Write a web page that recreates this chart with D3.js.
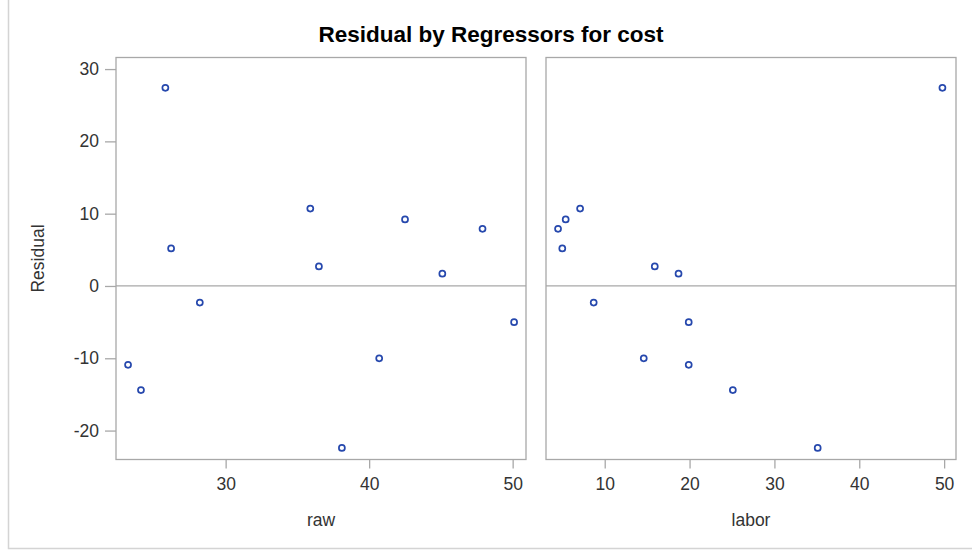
<!DOCTYPE html>
<html>
<head>
<meta charset="utf-8">
<script src="https://cdn.jsdelivr.net/npm/d3@7"></script>
<style>
  body { margin: 0; background: #fff; }
  text { font-family: "Liberation Sans", Arial, sans-serif; }
</style>
</head>
<body>
<div id="graph"></div>
<script>
// residuals and regressor values
var g_residual = [27.4, 5.2, -2.3, -10.9, -14.4, 10.7, 2.7, -22.4, -10.0, 9.2, 1.7, 7.9, -5.0];
var g_raw      = [25.8, 26.2, 28.2, 23.2, 24.1, 35.9, 36.5, 38.1, 40.7, 42.5, 45.1, 47.9, 50.1];
var g_labor    = [49.8, 5.0, 8.7, 19.9, 25.1, 7.1, 15.9, 35.1, 14.6, 5.4, 18.7, 4.5, 19.9];

var g_raw_ticks = [30, 40, 50];
var g_labor_ticks = [10, 20, 30, 40, 50];
var g_res_ticks = [-20, -10, 0, 10, 20, 30];

var g_panels = [
    { name: "raw",   x: g_raw,   domain: [22.36, 50.93], ticks: g_raw_ticks,   left: 116, right: 526 },
    { name: "labor", x: g_labor, domain: [3.08, 51.4],   ticks: g_labor_ticks, left: 546, right: 956 }
];

const top_y = 57.5;
const bottom_y = 459.5;
const frame_col = "#a8a8a8";
const text_col = "#333";

// plain hyphen for negatives, as in the original
function Plain(v) {
    return String(v);
}

var g_svg = d3.select("#graph")
  .append("svg")
    .attr("width", 972)
    .attr("height", 550);

// outer border
g_svg.append("path")
    .attr("d", "M8.5,0 V548.5 H972")
    .attr("fill", "none")
    .attr("stroke", "#d4d4d4")
    .attr("stroke-width", 1.5);

g_svg.append("text")
    .attr("x", 491)
    .attr("y", 42)
    .attr("text-anchor", "middle")
    .attr("font-size", 22.5)
    .attr("font-weight", "bold")
    .attr("fill", "#000")
    .text("Residual by Regressors for cost");

var g_y = d3.scaleLinear()
    .domain([-24.0, 31.6])
    .range([bottom_y, top_y]);

function DrawPanel(panel, index) {
    var x = d3.scaleLinear()
        .domain(panel.domain)
        .range([panel.left, panel.right]);

    var g = g_svg.append("g");

    // zero reference line
    g.append("line")
        .attr("x1", panel.left).attr("x2", panel.right)
        .attr("y1", g_y(0)).attr("y2", g_y(0))
        .attr("stroke", frame_col)
        .attr("stroke-width", 1.3);

    g.append("rect")
        .attr("x", panel.left)
        .attr("y", top_y)
        .attr("width", panel.right - panel.left)
        .attr("height", bottom_y - top_y)
        .attr("fill", "none")
        .attr("stroke", frame_col)
        .attr("stroke-width", 1.3);

    var xaxis = g.append("g")
        .attr("transform", "translate(0," + bottom_y + ")")
        .call(d3.axisBottom(x).tickValues(panel.ticks).tickFormat(Plain).tickSize(9).tickPadding(9));
    xaxis.select(".domain").remove();
    xaxis.selectAll("line").attr("stroke", frame_col).attr("stroke-width", 1.3);
    xaxis.selectAll("text")
        .attr("font-size", 17.5)
        .attr("font-family", "Liberation Sans, Arial, sans-serif")
        .attr("fill", text_col);

    if (index === 0) {
        var yaxis = g.append("g")
            .attr("transform", "translate(" + panel.left + ",0)")
            .call(d3.axisLeft(g_y).tickValues(g_res_ticks).tickFormat(Plain).tickSize(11).tickPadding(6));
        yaxis.select(".domain").remove();
        yaxis.selectAll("line").attr("stroke", frame_col).attr("stroke-width", 1.3);
        yaxis.selectAll("text")
            .attr("font-size", 17.5)
            .attr("font-family", "Liberation Sans, Arial, sans-serif")
            .attr("fill", text_col);
    }

    g.append("text")
        .attr("x", (panel.left + panel.right) / 2)
        .attr("y", 526)
        .attr("text-anchor", "middle")
        .attr("font-size", 17.5)
        .attr("fill", text_col)
        .text(panel.name);

    g.selectAll("circle.pt")
      .data(d3.range(g_residual.length))
      .join("circle")
        .attr("class", "pt")
        .attr("cx", function (i) { return x(panel.x[i]); })
        .attr("cy", function (i) { return g_y(g_residual[i]); })
        .attr("r", 3)
        .attr("fill", "#fff")
        .attr("stroke", "#2648ad")
        .attr("stroke-width", 1.7);
}

g_panels.forEach(DrawPanel);

g_svg.append("text")
    .attr("transform", "translate(44," + (top_y + bottom_y) / 2 + ") rotate(-90)")
    .attr("text-anchor", "middle")
    .attr("font-size", 17.5)
    .attr("fill", text_col)
    .text("Residual");
</script>
</body>
</html>
